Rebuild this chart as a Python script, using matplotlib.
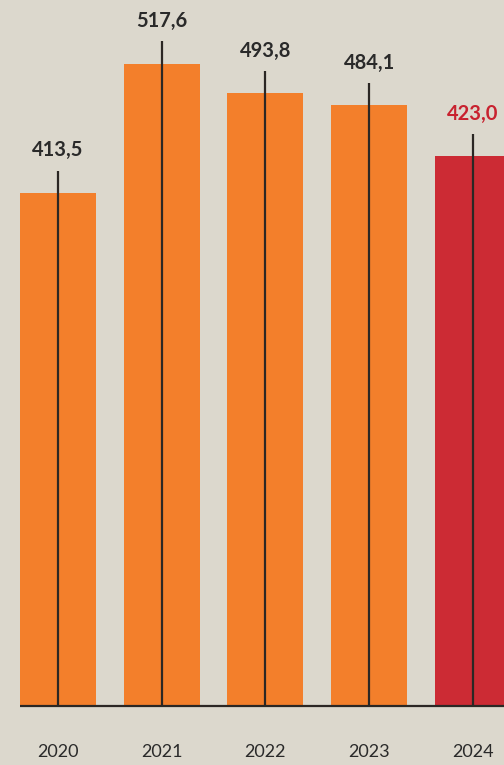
import matplotlib
matplotlib.use("Agg")
import matplotlib.pyplot as plt

years = ["2020", "2021", "2022", "2023", "2024"]
values = [413.5, 517.6, 493.8, 484.1, 423.0]
# bar heights as drawn in the reference (2024 bar drawn taller than its label)
bar_heights = [413.5, 517.6, 493.8, 484.1, 443.0]
value_labels = ["413,5", "517,6", "493,8", "484,1", "423,0"]
bar_colors = ["#F37F2B", "#F37F2B", "#F37F2B", "#F37F2B", "#CC2B34"]
label_colors = ["#2A2A2A", "#2A2A2A", "#2A2A2A", "#2A2A2A", "#C8222F"]

BG = "#DCD8CD"
fig = plt.figure(figsize=(5.04, 7.65), dpi=100)
fig.patch.set_facecolor(BG)
ax = fig.add_axes([0, 0, 1, 1])
ax.set_facecolor(BG)

x = list(range(len(years)))
ax.bar(x, bar_heights, width=0.733, color=bar_colors, zorder=2)

ext = 18.0
for xi, h, lab, c in zip(x, bar_heights, value_labels, label_colors):
    ax.plot([xi, xi], [0, h + ext], color="#2B2724", lw=1.6, zorder=3,
            solid_capstyle="butt")
    ax.text(xi, h + ext + 11.5, lab, ha="center", va="baseline",
            fontsize=14.5, fontweight="bold", color=c, family="Lato")

for xi, y in zip(x, years):
    ax.text(xi, -37, y, ha="center", va="center", fontsize=13,
            color="#2A2A2A", family="Lato")

ax.plot([-0.366, 5], [0, 0], color="#2B2724", lw=1.6, zorder=4,
        solid_capstyle="butt")

ax.set_xlim(-0.559, 4.30)
ax.set_ylim(-47.5, 568.9)
ax.axis("off")

fig.savefig("out.png", dpi=100, facecolor=BG)
